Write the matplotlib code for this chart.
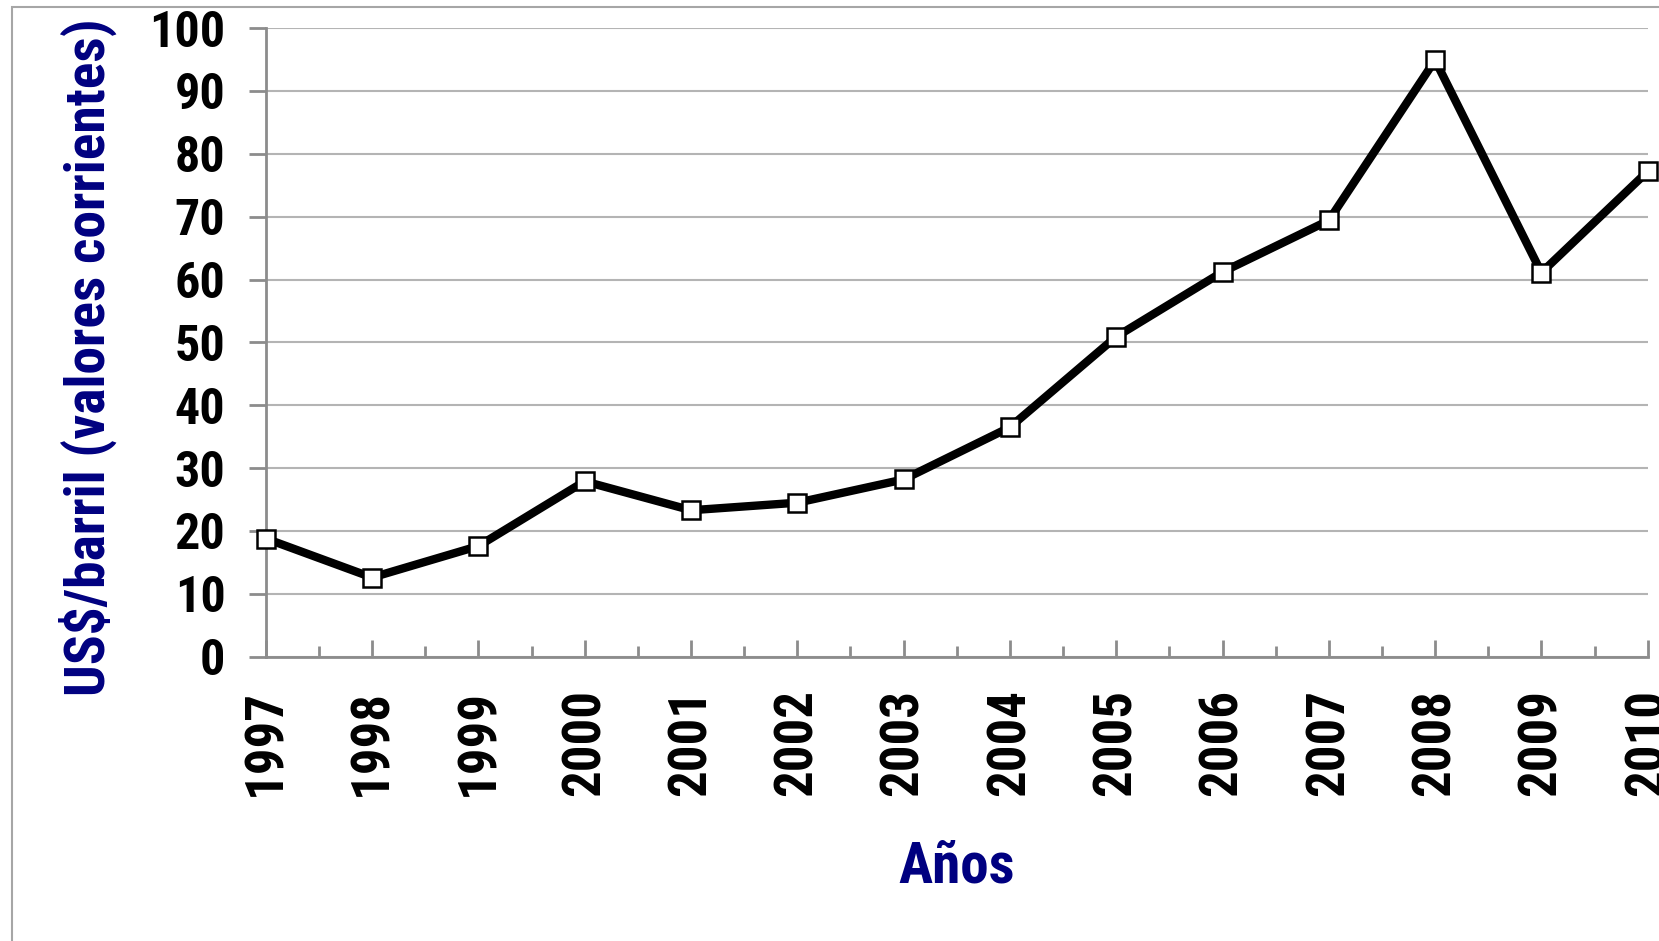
import matplotlib
matplotlib.use("Agg")
import matplotlib.pyplot as plt
from matplotlib.patches import Rectangle
from matplotlib.ticker import MultipleLocator


# ==============================
# DATA
# ==============================

years = ["1997", "1998", "1999", "2000", "2001", "2002", "2003",
         "2004", "2005", "2006", "2007", "2008", "2009", "2010"]
prices = [18.8, 12.6, 17.6, 27.9, 23.3, 24.5, 28.2,
          36.5, 50.9, 61.2, 69.4, 94.9, 61.1, 77.2]

y_label = "US$/barril (valores corrientes)"
x_label = "Años"


# ==============================
# PLOT
# ==============================

FONT = ["Roboto Condensed", "DejaVu Sans"]
NAVY = "#000080"
GRAY = "#8c8c8c"

fig = plt.figure(figsize=(16.59, 9.41), dpi=100)
ax = fig.add_axes([0.1602, 0.3021, 0.8330, 0.6681])

# outer chart-area frame (only left and top edges visible)
fig.patches.append(Rectangle((12 / 1659, -0.5), 2.0, 1.5 - 7 / 941,
                             transform=fig.transFigure, fill=False,
                             edgecolor="#a6a6a6", linewidth=1.5))

x = list(range(len(years)))
ax.plot(x, prices, color="black", linewidth=6, marker="s",
        markersize=13, markerfacecolor="white", markeredgecolor="black",
        markeredgewidth=1.8, zorder=5, clip_on=False)

ax.set_xlim(0, len(years) - 1)
ax.set_ylim(0, 100)
ax.yaxis.set_major_locator(MultipleLocator(10))
ax.set_xticks(x)
ax.set_xticklabels(years, rotation=90, fontsize=38, fontweight="bold",
                   family=FONT)
ax.set_xticks([i + 0.5 for i in x[:-1]], minor=True)
for lab in ax.get_yticklabels():
    lab.set_fontsize(36)
    lab.set_fontweight("bold")
    lab.set_family(FONT)

ax.grid(axis="y", color="#b4b4b4", linewidth=1.5)
ax.set_axisbelow(True)
for side in ["top", "right"]:
    ax.spines[side].set_visible(False)
for side in ["left", "bottom"]:
    ax.spines[side].set_color(GRAY)
    ax.spines[side].set_linewidth(2)

ax.tick_params(axis="y", direction="out", length=12, width=2, color=GRAY,
               pad=17)
ax.tick_params(axis="x", which="major", direction="in", length=12, width=2,
               color=GRAY, pad=23)
ax.tick_params(axis="x", which="minor", direction="in", length=8, width=2,
               color=GRAY)

fig.text(88 / 1659, 1 - 357 / 941, y_label, rotation=90, ha="center",
         va="center", fontsize=40, fontweight="bold", color=NAVY, family=FONT)
fig.text(957 / 1659, 1 - 867 / 941, x_label, ha="center", va="center",
         fontsize=41, fontweight="bold", color=NAVY, family=FONT)

fig.savefig("out.png", dpi=100, facecolor="white")
plt.close(fig)
